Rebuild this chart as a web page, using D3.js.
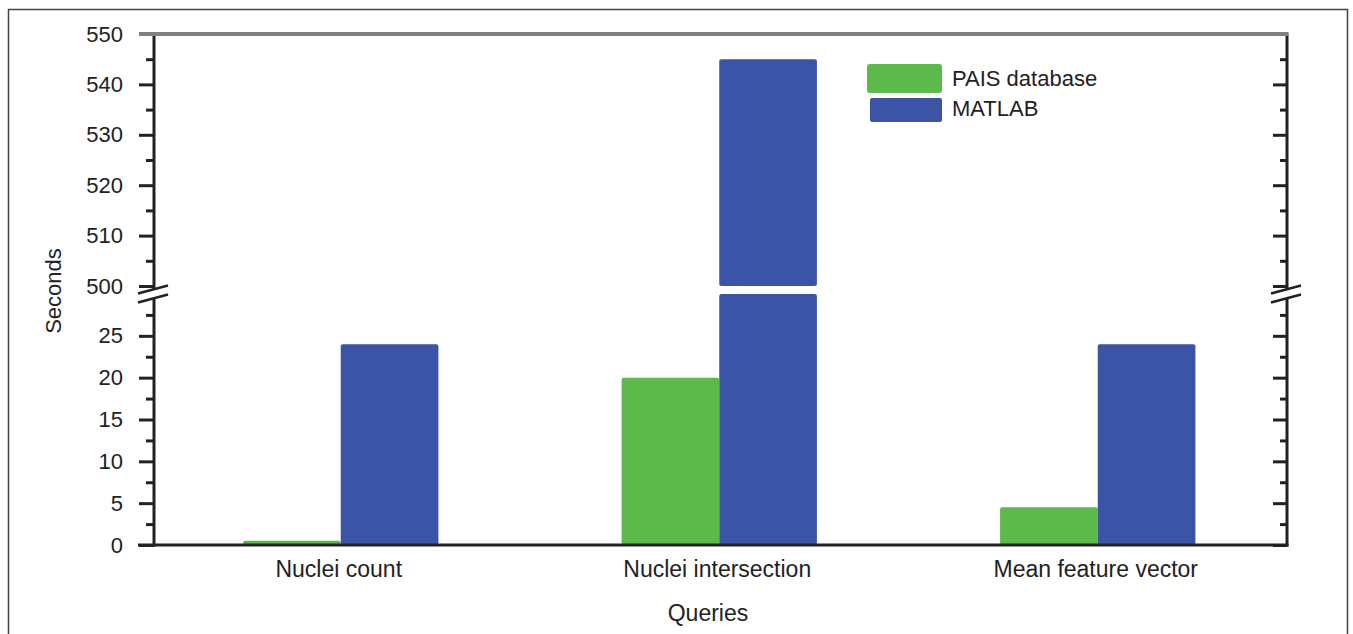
<!DOCTYPE html>
<html>
<head>
<meta charset="utf-8">
<script src="https://cdn.jsdelivr.net/npm/d3@7"></script>
<style>
  body { margin: 0; background: #fff; }
  svg text { font-family: "Liberation Sans", Arial, sans-serif; fill: #222; }
</style>
</head>
<body>
<div id="chart"></div>
<script>
// data
const categories = ["Nuclei count", "Nuclei intersection", "Mean feature vector"];
const seriesNames = ["PAIS database", "MATLAB"];
const paisValues = [0.5, 20, 4.5];
const matlabValues = [24, 545, 24];
const lowTicks = [0, 5, 10, 15, 20, 25];
const highTicks = [500, 510, 520, 530, 540, 550];
const colors = ["#5cb94b", "#3b54a5"];

const width = 1353, height = 634;
const plotLeft = 154, plotRight = 1287, plotBottom = 545, plotTop = 34;

const svg = d3.select("#chart").append("svg")
    .attr("width", width)
    .attr("height", height);

// outer frame
svg.append("rect")
    .attr("x", 8.5).attr("y", 9.5)
    .attr("width", 1339).attr("height", 640)
    .attr("fill", "none")
    .attr("stroke", "#444")
    .attr("stroke-width", 1.5);

// two y scales for the broken axis
const yLow = d3.scaleLinear().domain([0, 30]).range([plotBottom, 294]);
const yHigh = d3.scaleLinear().domain([500, 550]).range([286, plotTop]);

const x0 = d3.scaleBand().domain(categories).range([plotLeft - 2.5, plotRight])
    .paddingInner(0.484).paddingOuter(0.242);
const x1 = d3.scaleBand().domain(seriesNames).range([0, x0.bandwidth()]);

// bars (values above 30 are split across the break)
const rows = [];
categories.forEach((c, i) => {
    [paisValues[i], matlabValues[i]].forEach((v, j) => {
        const x = x0(c) + x1(seriesNames[j]);
        if (v <= 30) {
            rows.push({x: x, y0: yLow(v), y1: yLow(0), s: j});
        } else {
            rows.push({x: x, y0: yLow(30), y1: yLow(0), s: j});
            rows.push({x: x, y0: yHigh(v), y1: yHigh(500), s: j});
        }
    });
});

svg.append("g").selectAll("rect")
    .data(rows)
    .join("rect")
    .attr("x", d => d.x)
    .attr("y", d => d.y0)
    .attr("width", x1.bandwidth())
    .attr("height", d => d.y1 - d.y0)
    .attr("rx", 2)
    .attr("fill", d => colors[d.s]);

function styleAxis(g) {
    g.select(".domain").remove();
    g.selectAll(".tick line").attr("stroke", "#222").attr("stroke-width", 3);
    g.selectAll(".tick text").style("font-size", "22px").attr("fill", "#222");
}

const lowMinor = d3.range(2.5, 30, 5);
const highMinor = d3.range(505, 550, 10);

// left axis: ticks outward, labelled
svg.append("g").attr("transform", `translate(${plotLeft},0)`)
    .call(d3.axisLeft(yLow).tickValues(lowTicks).tickSize(15).tickPadding(16))
    .call(styleAxis);
svg.append("g").attr("transform", `translate(${plotLeft},0)`)
    .call(d3.axisLeft(yHigh).tickValues(highTicks).tickSize(15).tickPadding(16))
    .call(styleAxis);
svg.append("g").attr("transform", `translate(${plotLeft},0)`)
    .call(d3.axisLeft(yLow).tickValues(lowMinor).tickSize(8).tickFormat(""))
    .call(styleAxis);
svg.append("g").attr("transform", `translate(${plotLeft},0)`)
    .call(d3.axisLeft(yHigh).tickValues(highMinor).tickSize(8).tickFormat(""))
    .call(styleAxis);

// right axis: ticks inward, no labels
svg.append("g").attr("transform", `translate(${plotRight},0)`)
    .call(d3.axisRight(yLow).tickValues(lowTicks).tickSize(-14).tickFormat(""))
    .call(styleAxis);
svg.append("g").attr("transform", `translate(${plotRight},0)`)
    .call(d3.axisRight(yHigh).tickValues(highTicks.slice(0, -1)).tickSize(-14).tickFormat(""))
    .call(styleAxis);
svg.append("g").attr("transform", `translate(${plotRight},0)`)
    .call(d3.axisRight(yLow).tickValues(lowMinor).tickSize(-7).tickFormat(""))
    .call(styleAxis);
svg.append("g").attr("transform", `translate(${plotRight},0)`)
    .call(d3.axisRight(yHigh).tickValues(highMinor).tickSize(-7).tickFormat(""))
    .call(styleAxis);

// axis lines
const lines = svg.append("g").attr("stroke", "#222").attr("stroke-width", 3).attr("fill", "none");
lines.append("line").attr("x1", plotLeft).attr("x2", plotLeft).attr("y1", plotTop).attr("y2", plotBottom + 1.5);
lines.append("line").attr("x1", plotRight).attr("x2", plotRight).attr("y1", plotTop).attr("y2", plotBottom + 1.5);
lines.append("line").attr("x1", 138).attr("x2", plotRight + 1.5).attr("y1", plotBottom).attr("y2", plotBottom);
svg.append("line")
    .attr("x1", 139).attr("x2", plotRight + 1.5)
    .attr("y1", plotTop).attr("y2", plotTop)
    .attr("stroke", "#808080").attr("stroke-width", 4);

// axis break marks
[plotLeft, plotRight].forEach(ax => {
    const g = svg.append("g").attr("transform", `translate(${ax},${yLow(30) - 4.5})`);
    g.append("polygon")
        .attr("points", "-16,4 14,-4 14,5 -16,13")
        .attr("fill", "#fff");
    g.append("line").attr("x1", -16).attr("y1", 4).attr("x2", 14).attr("y2", -4)
        .attr("stroke", "#222").attr("stroke-width", 2.5);
    g.append("line").attr("x1", -16).attr("y1", 13).attr("x2", 14).attr("y2", 5)
        .attr("stroke", "#222").attr("stroke-width", 2.5);
});

// category labels
svg.append("g").selectAll("text")
    .data(categories)
    .join("text")
    .attr("x", d => x0(d) + x0.bandwidth() / 2 - 2)
    .attr("y", 577)
    .attr("text-anchor", "middle")
    .style("font-size", "23px")
    .text(d => d);

// axis titles
svg.append("text")
    .attr("x", 708).attr("y", 621)
    .attr("text-anchor", "middle")
    .style("font-size", "23px")
    .text("Queries");

svg.append("text")
    .attr("transform", "translate(61,291) rotate(-90)")
    .attr("text-anchor", "middle")
    .style("font-size", "22px")
    .text("Seconds");

// legend
const legend = svg.append("g");
legend.append("rect").attr("x", 867).attr("y", 64).attr("width", 75).attr("height", 29)
    .attr("rx", 3).attr("fill", colors[0]);
legend.append("rect").attr("x", 870).attr("y", 98).attr("width", 72).attr("height", 24)
    .attr("rx", 2).attr("fill", colors[1]);
legend.selectAll("text")
    .data(seriesNames)
    .join("text")
    .attr("x", 952)
    .attr("y", (d, i) => 86 + i * 30)
    .style("font-size", "22px")
    .text(d => d);
</script>
</body>
</html>
